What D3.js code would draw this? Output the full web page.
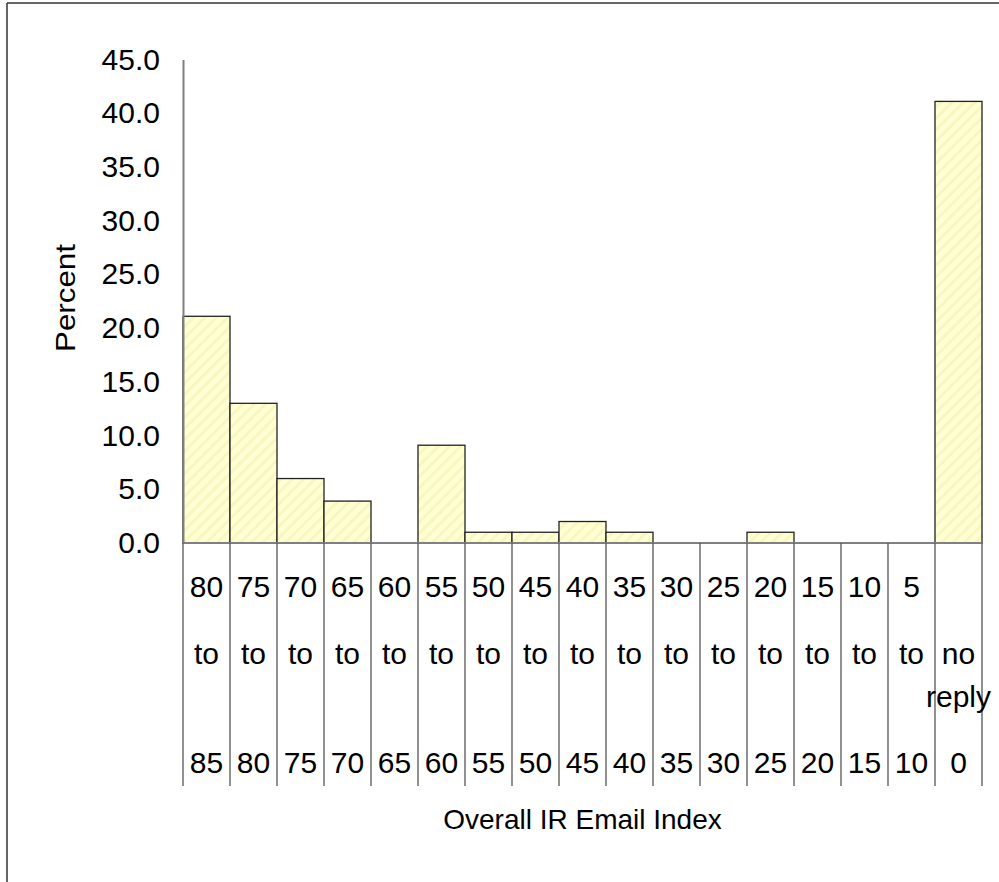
<!DOCTYPE html>
<html>
<head>
<meta charset="utf-8">
<script src="https://cdn.jsdelivr.net/npm/d3@7/dist/d3.min.js"></script>
<style>
  html, body { margin: 0; padding: 0; background: #fff; }
  svg { display: block; font-family: "Liberation Sans", Arial, sans-serif; }
</style>
</head>
<body>
<svg id="chart" width="999" height="882"></svg>
<script>
// Score bands (upper row / lower row of each x label) and share of respondents
const bandFrom = ["80", "75", "70", "65", "60", "55", "50", "45", "40", "35", "30", "25", "20", "15", "10", "5", "no"];
const bandTo   = ["85", "80", "75", "70", "65", "60", "55", "50", "45", "40", "35", "30", "25", "20", "15", "10", "0"];
const percent  = [21.1, 13.0, 6.0, 3.9, 0, 9.1, 1.0, 1.0, 2.0, 1.0, 0, 0, 1.0, 0, 0, 0, 41.1];
const yTicks   = [0, 5, 10, 15, 20, 25, 30, 35, 40, 45];

const svg = d3.select("#chart");

// hatched pale-yellow fill
const defs = svg.append("defs");
const pat = defs.append("pattern")
  .attr("id", "hatch")
  .attr("patternUnits", "userSpaceOnUse")
  .attr("width", 8).attr("height", 8)
  .attr("patternTransform", "rotate(45)");
pat.append("rect").attr("width", 8).attr("height", 8).attr("fill", "#ffffd4");
pat.append("rect").attr("x", 0).attr("width", 3).attr("height", 8).attr("fill", "#f9f6c0");

// frame lines
svg.append("line").attr("x1", 7).attr("y1", 3).attr("x2", 999).attr("y2", 3)
  .attr("stroke", "#333").attr("stroke-width", 1.5);
svg.append("line").attr("x1", 7).attr("y1", 3).attr("x2", 7).attr("y2", 882)
  .attr("stroke", "#333").attr("stroke-width", 1.5);

const cats = d3.range(bandFrom.length);
const x = d3.scaleBand().domain(cats).range([183, 982]).padding(0);
const y = d3.scaleLinear().domain([0, 45]).range([543, 59.5]);

// bars
svg.append("g").selectAll("rect")
  .data(cats.filter(i => percent[i] > 0))
  .join("rect")
  .attr("x", i => x(i))
  .attr("y", i => y(percent[i]))
  .attr("width", x.bandwidth())
  .attr("height", i => y(0) - y(percent[i]))
  .attr("fill", "url(#hatch)")
  .attr("stroke", "#222")
  .attr("stroke-width", 1.3);

// y axis
const yAxis = d3.axisLeft(y).tickValues(yTicks).tickFormat(d3.format(".1f")).tickSize(0).tickPadding(23);
const gy = svg.append("g").attr("transform", "translate(183,0)").call(yAxis);
gy.select(".domain").attr("stroke", "#808080").attr("stroke-width", 2);
gy.selectAll("text").attr("font-size", 30).attr("fill", "#000")
  .attr("font-family", "'Liberation Sans', Arial, sans-serif");

// baseline
svg.append("line").attr("x1", 183).attr("x2", 982).attr("y1", y(0)).attr("y2", y(0))
  .attr("stroke", "#808080").attr("stroke-width", 2);

// column separators below the axis
const edges = cats.map(i => x(i)).concat([x(cats[cats.length - 1]) + x.bandwidth()]);
svg.append("g").selectAll("line")
  .data(edges)
  .join("line")
  .attr("x1", d => d).attr("x2", d => d)
  .attr("y1", y(0)).attr("y2", 786)
  .attr("stroke", "#555").attr("stroke-width", 1.3);

// category labels
const lab = svg.append("g").attr("font-size", 30).attr("fill", "#000").attr("text-anchor", "middle");
cats.forEach(i => {
  const cx = x(i) + x.bandwidth() / 2;
  if (bandFrom[i] === "no") {
    lab.append("text").attr("x", cx).attr("y", 653).attr("dy", "0.35em").text("no");
    lab.append("text").attr("x", cx).attr("y", 696).attr("dy", "0.35em").text("reply");
  } else {
    lab.append("text").attr("x", cx).attr("y", 586).attr("dy", "0.35em").text(bandFrom[i]);
    lab.append("text").attr("x", cx).attr("y", 653).attr("dy", "0.35em").text("to");
  }
  lab.append("text").attr("x", cx).attr("y", 762).attr("dy", "0.35em").text(bandTo[i]);
});

// axis titles
svg.append("text").attr("x", 582.5).attr("y", 819).attr("dy", "0.35em")
  .attr("text-anchor", "middle").attr("font-size", 28).text("Overall IR Email Index");
svg.append("text").attr("transform", "translate(65,298) rotate(-90)").attr("dy", "0.35em")
  .attr("text-anchor", "middle").attr("font-size", 28)
  .attr("textLength", 108).attr("lengthAdjust", "spacingAndGlyphs")
  .text("Percent");
</script>
</body>
</html>
